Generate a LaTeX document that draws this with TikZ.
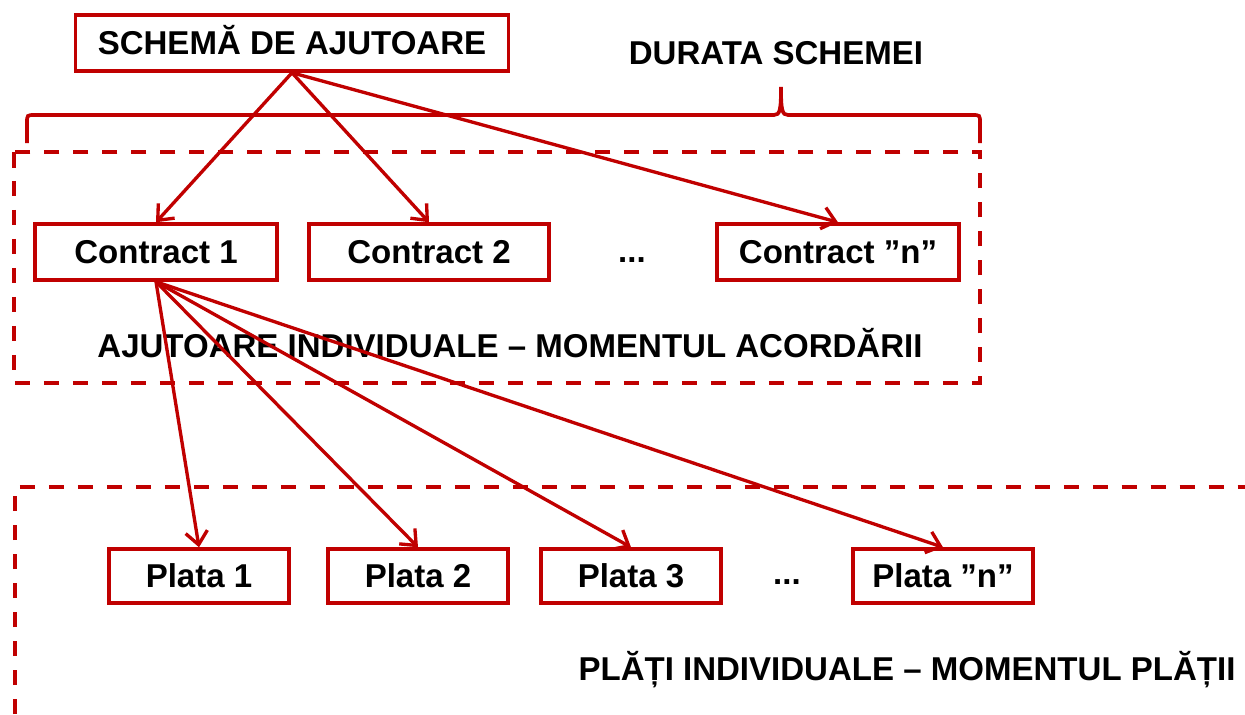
\documentclass[tikz,border=0pt]{standalone}
\usepackage{fontspec}
\setmainfont{Liberation Sans}
\usetikzlibrary{arrows.meta}
\definecolor{schemred}{RGB}{192,0,0}
\begin{document}
\begin{tikzpicture}[x=0.02cm,y=-0.02cm,
  every node/.style={font=\fontsize{18.8}{22}\selectfont\bfseries},
  box/.style={draw=schemred,line width=2pt,inner sep=0pt,text height=13.5pt,text depth=0pt,minimum height=1.12cm},
  zone/.style={draw=schemred,line width=2.1pt,dash pattern=on 0.31cm off 0.27cm},
  link/.style={draw=schemred,line width=1.9pt,-{Straight Barb[length=2.6mm,width=4.4mm,line width=1.9pt]}}]
  \useasboundingbox (0,0) rectangle (1245,714);
  % zones
  \draw[zone] (14,152) rectangle (980,383);
  \draw[zone] (15,714) -- (15,487) -- (1245,487);
  % brace
  \draw[schemred,line width=2.1pt] (27,143) -- (27,123) .. controls (27,115) .. (35,115) -- (774,115)
    .. controls (780,115) and (781,110) .. (781,87) .. controls (781,110) and (782,115) .. (788,115)
    -- (972,115) .. controls (980,115) .. (980,123) -- (980,143);
  \node[box,minimum width=8.66cm] (schema) at (292,43) {SCHEMĂ DE AJUTOARE};
  \node[anchor=base] (durata) at (776,64) {DURATA SCHEMEI};
  % contracts
  \node[box,minimum width=4.84cm] (c1) at (156,252) {Contract 1};
  \node[box,minimum width=4.8cm] (c2) at (429,252) {Contract 2};
  \node (cdots) at (632,260) {...};
  \node[box,minimum width=4.84cm] (cn) at (838,252) {Contract ”n”};
  \node[anchor=base] (acord) at (510,357) {AJUTOARE INDIVIDUALE – MOMENTUL ACORDĂRII};
  % payments
  \node[box,minimum width=3.6cm,minimum height=1.08cm] (p1) at (199,576) {Plata 1};
  \node[box,minimum width=3.6cm,minimum height=1.08cm] (p2) at (418,576) {Plata 2};
  \node[box,minimum width=3.6cm,minimum height=1.08cm] (p3) at (631,576) {Plata 3};
  \node (pdots) at (787,582) {...};
  \node[box,minimum width=3.6cm,minimum height=1.08cm] (pn) at (943,576) {Plata ”n”};
  \node[anchor=base] (plati) at (907,680) {PLĂȚI INDIVIDUALE – MOMENTUL PLĂȚII};
  % arrows
  \foreach \c in {c1,c2,cn}
    \draw[link] (schema.south) -- (\c.north);
  \foreach \p in {p1,p2,p3,pn}
    \draw[link] (c1.south) -- (\p.north);
\end{tikzpicture}
\end{document}
